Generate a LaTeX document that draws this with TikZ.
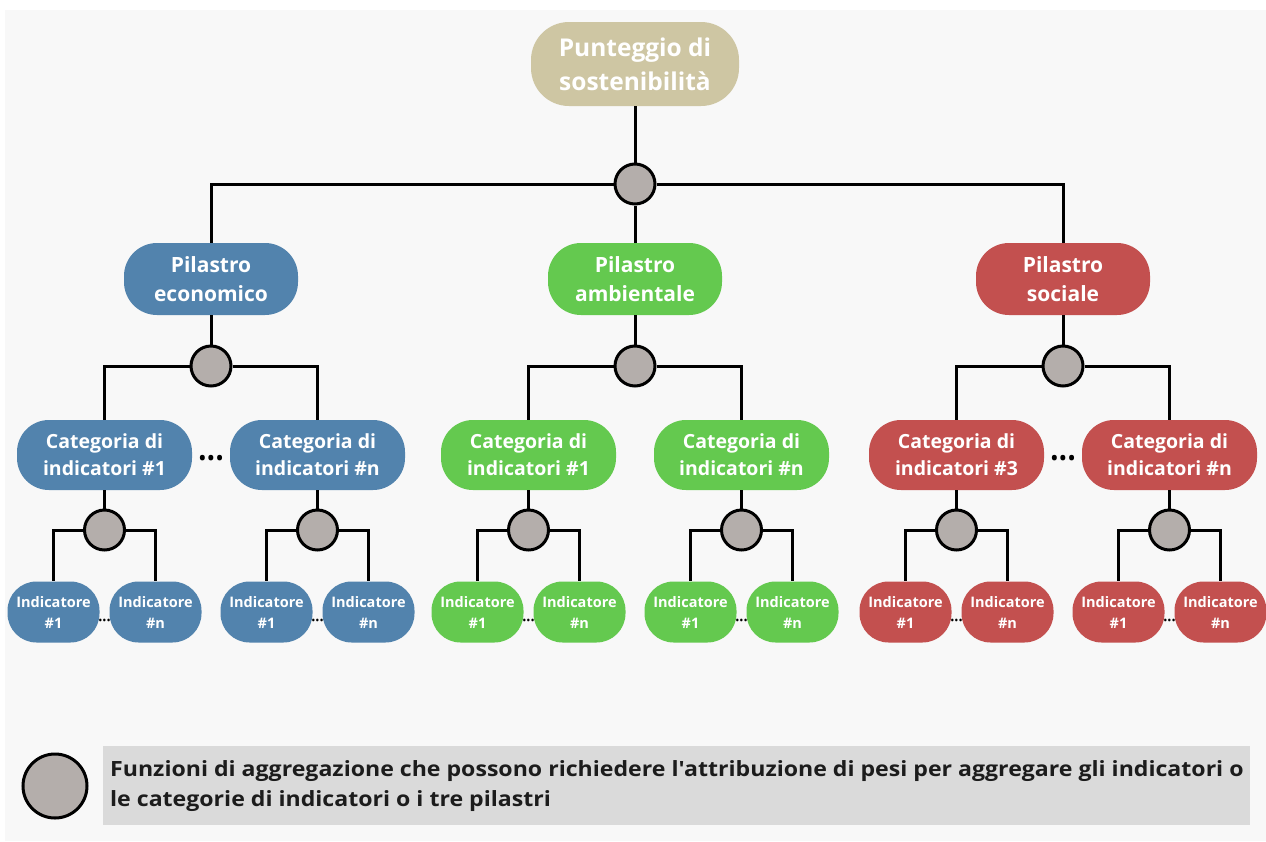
\documentclass[tikz,border=0pt]{standalone}
\usepackage{fontspec}
\setmainfont{Open Sans}
\newfontfamily\legendfont{Open Sans}[FakeStretch=1.1]
\usetikzlibrary{calc}
\definecolor{econ}{HTML}{5283AD}
\definecolor{amb}{HTML}{64C94F}
\definecolor{soc}{HTML}{C3504F}
\definecolor{rootc}{HTML}{CEC6A3}
\definecolor{aggc}{HTML}{B4AEAB}
\definecolor{panel}{HTML}{F8F8F8}
\definecolor{barc}{HTML}{DADADA}
\definecolor{ink}{HTML}{1C1C1C}
\begin{document}
\begin{tikzpicture}[x=1pt,y=-1pt,
  box/.style={draw=none, text=white, align=center, inner sep=0pt},
  root/.style={box, fill=rootc, minimum width=208pt, minimum height=84pt,
    rounded corners=38pt, font=\bfseries\fontsize{24.5}{34}\selectfont},
  pillar/.style={box, minimum width=174pt, minimum height=72pt,
    rounded corners=33pt, font=\bfseries\fontsize{21}{29}\selectfont},
  cat/.style={box, minimum width=175pt, minimum height=70pt,
    rounded corners=32pt, font=\bfseries\fontsize{19.5}{27}\selectfont},
  ind/.style={box, minimum width=92pt, minimum height=61pt,
    rounded corners=29pt, font=\bfseries\fontsize{14.5}{21}\selectfont},
  agg/.style={circle, draw=black, line width=3pt, fill=aggc,
    minimum size=40pt, inner sep=0pt},
  link/.style={line width=3pt, draw=black},
  bigdots/.style={inner sep=0pt, font=\fontsize{23}{23}\selectfont},
  smalldots/.style={inner sep=0pt, font=\fontsize{11}{11}\selectfont}]
\useasboundingbox (0,0) rectangle (1266,841);
\fill[white] (0,0) rectangle (1266,841);
\fill[panel] (5,10) rectangle (1266,841);

% root score and top aggregation
\node[root] (top) at (635,64) {Punteggio di\\sostenibilità};
\node[agg] (g0) at (635,184) {};
\draw[link] (top) -- (g0);

\foreach \p/\x/\col/\pt/\ca/\cb/\dd in {
    e/211/econ/{Pilastro\\economico}/1/n/1,
    a/635/amb/{Pilastro\\ambientale}/1/n/0,
    s/1063/soc/{Pilastro\\sociale}/3/n/1} {
  \node[pillar, fill=\col] (p\p) at (\x,279) {\pt};
  \node[agg] (g\p) at (\x,366) {};
  \draw[link] (p\p) -- (g\p);
  \foreach \k/\dx/\num in {a/-106.5/\ca, b/106.5/\cb} {
    \node[cat, fill=\col] (c\p\k) at (\x+\dx,455) {Categoria di\\indicatori \#\num};
    \node[agg] (h\p\k) at (\x+\dx,530) {};
    \draw[link] (c\p\k) -- (h\p\k);
    \node[ind, fill=\col] (i\p\k1) at (\x+\dx-51,612) {Indicatore\\\#1};
    \node[ind, fill=\col] (i\p\k2) at (\x+\dx+51,612) {Indicatore\\\#n};
    \draw[link] (h\p\k.west) -| (i\p\k1.north);
    \draw[link] (h\p\k.east) -| (i\p\k2.north);
    \node[smalldots] at ($(i\p\k1.east)!0.5!(i\p\k2.west)+(0,10)$) {•••};
  }
  \draw[link] (g\p.west) -| (c\p a.north);
  \draw[link] (g\p.east) -| (c\p b.north);
  \ifnum\dd=1
    \node[bigdots] at ($(c\p a.east)!0.5!(c\p b.west)+(0,6)$) {•••};
  \fi
}
\draw[link] (g0.west) -| (pe.north);
\draw[link] (g0.east) -| (ps.north);
\draw[link] (g0) -- (pa);

% legend
\node[agg, minimum size=64pt] (lg) at (55,786) {};
\node[fill=barc, minimum width=1147pt, minimum height=79pt, inner sep=0pt,
  anchor=north west] (lb) at (103,746) {};
\node[anchor=west, align=left, inner sep=0pt, text=ink,
  font=\legendfont\bfseries\fontsize{21}{30}\selectfont] (lt) at (110,786)
  {Funzioni di aggregazione che possono richiedere l\textquotesingle attribuzione di pesi per aggregare gli indicatori o\\
   le categorie di indicatori o i tre pilastri};
\end{tikzpicture}
\end{document}
